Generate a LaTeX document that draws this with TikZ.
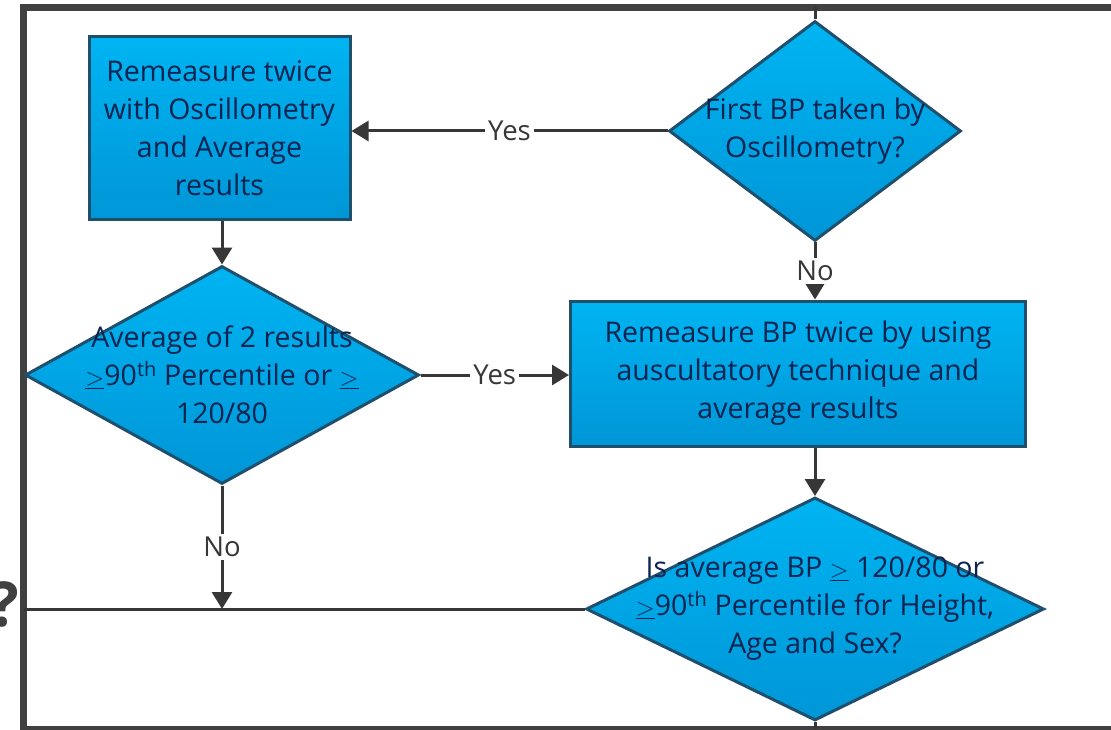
\documentclass[tikz,border=0pt]{standalone}
\usepackage{fontspec}
\setmainfont{Open Sans}
\usetikzlibrary{shapes.geometric,arrows.meta}
\definecolor{framegray}{RGB}{64,64,64}
\definecolor{wire}{RGB}{55,55,55}
\definecolor{boxedge}{RGB}{30,80,110}
\definecolor{boxtop}{RGB}{0,180,242}
\definecolor{boxbot}{RGB}{0,150,215}
\definecolor{ink}{RGB}{10,35,80}

\begin{document}
\begin{tikzpicture}[x=1pt,y=-1pt,
  stepbox/.style={rectangle,draw=boxedge,line width=3pt,top color=boxtop,bottom color=boxbot,inner sep=0pt},
  decision/.style={diamond,draw=boxedge,line width=3pt,top color=boxtop,bottom color=boxbot,inner sep=0pt},
  caption/.style={text=ink,font=\fontsize{28.5}{38}\selectfont,align=center,inner sep=0pt},
  link/.style={draw=wire,line width=3pt},
  flow/.style={link,-{Triangle[length=17pt,width=20pt]}},
  tag/.style={fill=white,text=wire,font=\fontsize{27.5}{30}\selectfont,inner sep=3pt}]

\useasboundingbox (0,0) rectangle (1111,730);

% outer frame, open on the right
\draw[framegray,line width=7pt] (1120,7.5) -- (23.5,7.5) -- (23.5,729) -- (1120,729);
\node[font=\bfseries\fontsize{62}{62}\selectfont,text=framegray,anchor=east,inner sep=0pt] (qmark) at (19,604) {?};

% process boxes and decisions
\node[stepbox,minimum width=261pt,minimum height=183pt] (b1) at (219.5,128.5) {};
\node[caption] (b1t) at (b1) {Remeasure twice\\with Oscillometry\\and Average\\results};

\node[decision,minimum width=292pt,minimum height=220pt] (d1) at (815,131) {};
\node[caption] (d1t) at (d1) {First BP taken by\\Oscillometry?};

\node[decision,minimum width=394pt,minimum height=218pt] (d2) at (222,375) {};
\node[caption] (d2t) at (d2) {Average of 2 results\\$\underline{>}$90\textsuperscript{th} Percentile or $\underline{>}$\\120/80};

\node[stepbox,minimum width=455pt,minimum height=145pt] (b2) at (798,373.5) {};
\node[caption] (b2t) at (b2) {Remeasure BP twice by using\\auscultatory technique and\\average results};

\node[decision,minimum width=458pt,minimum height=223pt] (d4) at (815,609) {};
\node[caption] (d4t) at (d4) {Is average BP $\underline{>}$ 120/80 or\\$\underline{>}$90\textsuperscript{th} Percentile for Height,\\Age and Sex?};

% free ends on the frame
\coordinate (topend) at (815,7.5);
\coordinate (leftend) at (23.5,609);
\coordinate (botend) at (815,729);

% connectors
\draw[link] (d1.north) -- (topend);
\draw[flow] (d1.west) -- node[tag] (yes1) {Yes} (d1.west -| b1.east);
\draw[flow] (b1.south -| d2.north) -- (d2.north);
\draw[flow] (d2.east) -- node[tag] (yes2) {Yes} (d2.east -| b2.west);
\draw[flow] (d1.south) -- node[tag] (no1) {No} (d1.south |- b2.north);
\draw[flow] (d1.south |- b2.south) -- (d4.north);
\draw[link] (d4.west) -- (leftend);
\draw[flow] (d2.south) -- node[tag] (no2) {No} (d2.south |- d4.west);
\draw[link] (d4.south) -- (botend);
\end{tikzpicture}
\end{document}
